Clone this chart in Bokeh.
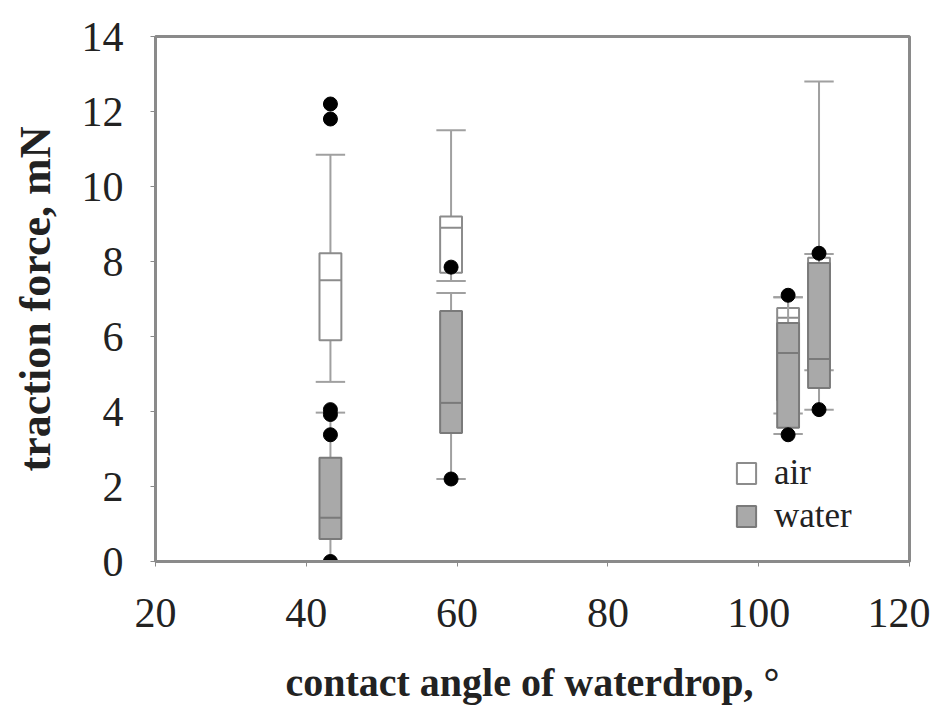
from bokeh.plotting import figure
from bokeh.models import Legend, LegendItem, FixedTicker
from bokeh.embed import file_html
from bokeh.resources import INLINE

# data
angles_air = [43.2, 59.2, 103.9, 108.0]
air_lo = [4.79, 7.48, 3.95, 5.1]
air_q1 = [5.9, 7.7, 4.3, 5.1]
air_med = [7.5, 8.9, 6.5, 5.5]
air_q3 = [8.22, 9.2, 6.76, 8.1]
air_hi = [10.85, 11.5, 7.05, 12.8]
air_out_x = [43.2, 43.2]
air_out_y = [12.2, 11.8]

angles_water = [43.2, 59.2, 103.9, 108.0]
water_lo = [0.0, 2.2, 3.4, 4.05]
water_q1 = [0.6, 3.43, 3.57, 4.63]
water_med = [1.17, 4.23, 5.56, 5.4]
water_q3 = [2.77, 6.68, 6.36, 7.96]
water_hi = [3.97, 7.16, 7.05, 8.2]
water_out_x = [43.2, 43.2, 43.2, 43.2, 59.2, 59.2, 103.9, 103.9, 108.0, 108.0]
water_out_y = [4.05, 3.92, 3.38, 0.0, 7.85, 2.2, 7.1, 3.38, 8.22, 4.05]

x_ticks = [20, 40, 60, 80, 100, 120]
y_ticks = [0, 2, 4, 6, 8, 10, 12, 14]

BW = 2.9   # box width in x units
CW = 3.9   # cap width

W, H = 930, 712
p = figure(width=W, height=H, x_range=(20, 120), y_range=(0, 14),
           output_backend="svg", toolbar_location=None,
           min_border_left=155, min_border_right=W - 909, min_border_top=36,
           min_border_bottom=H - 561)
p.grid.visible = False
p.outline_line_color = "#8a8a8a"
p.outline_line_width = 3
p.background_fill_color = "white"

FONT = "Liberation Serif"
for ax in (p.xaxis[0], p.yaxis[0]):
    ax.axis_line_color = "#8a8a8a"
    ax.axis_line_width = 3
    ax.major_tick_line_color = "#8a8a8a"
    ax.major_tick_in = 0
    ax.major_tick_out = 5
    ax.minor_tick_line_color = None
    ax.major_label_text_font = FONT
    ax.major_label_text_font_size = "42px"
    ax.major_label_text_color = "#222222"
    ax.axis_label_text_font = FONT
    ax.axis_label_text_font_style = "bold"
    ax.axis_label_text_color = "#222222"

p.xaxis.axis_label_text_font_size = "40px"
p.yaxis.axis_label_text_font_size = "44px"
p.xaxis.ticker = FixedTicker(ticks=x_ticks)
p.yaxis.ticker = FixedTicker(ticks=y_ticks)
p.xaxis.major_label_standoff = 32
p.yaxis.major_label_standoff = 27
p.xaxis.axis_label = "contact angle of waterdrop, °"
p.yaxis.axis_label = "traction force, mN"
p.xaxis.axis_label_standoff = 30
p.yaxis.axis_label_standoff = 19

def draw(xs, lo, q1, med, q3, hi, fill, line):
    left = [x - BW / 2 for x in xs]
    right = [x + BW / 2 for x in xs]
    cl = [x - CW / 2 for x in xs]
    cr = [x + CW / 2 for x in xs]
    p.segment(x0=xs, y0=q3, x1=xs, y1=hi, line_color="#a0a0a0", line_width=2)
    p.segment(x0=xs, y0=lo, x1=xs, y1=q1, line_color="#a0a0a0", line_width=2)
    p.segment(x0=cl, y0=hi, x1=cr, y1=hi, line_color="#a0a0a0", line_width=2)
    p.segment(x0=cl, y0=lo, x1=cr, y1=lo, line_color="#a0a0a0", line_width=2)
    r = p.quad(left=left, right=right, bottom=q1, top=q3, fill_color=fill,
               line_color=line, line_width=2)
    p.segment(x0=left, y0=med, x1=right, y1=med, line_color=line, line_width=2)
    return r

r_air = draw(angles_air, air_lo, air_q1, air_med, air_q3, air_hi, "white", "#8c8c8c")
r_water = draw(angles_water, water_lo, water_q1, water_med, water_q3, water_hi, "#a9a9a9", "#7a7a7a")

p.scatter(air_out_x, air_out_y, size=14, color="black")
p.scatter(water_out_x, water_out_y, size=14, color="black")

legend = Legend(items=[LegendItem(label="air", renderers=[r_air]),
                       LegendItem(label="water", renderers=[r_water])],
                location=(579, 25))
legend.border_line_color = None
legend.background_fill_alpha = 0
legend.label_text_font = FONT
legend.label_text_font_size = "35px"
legend.label_text_color = "#222222"
legend.glyph_width = 24
legend.glyph_height = 26
legend.spacing = 3
legend.label_standoff = 16
p.add_layout(legend)

open("out.html", "w").write(file_html(p, INLINE))
